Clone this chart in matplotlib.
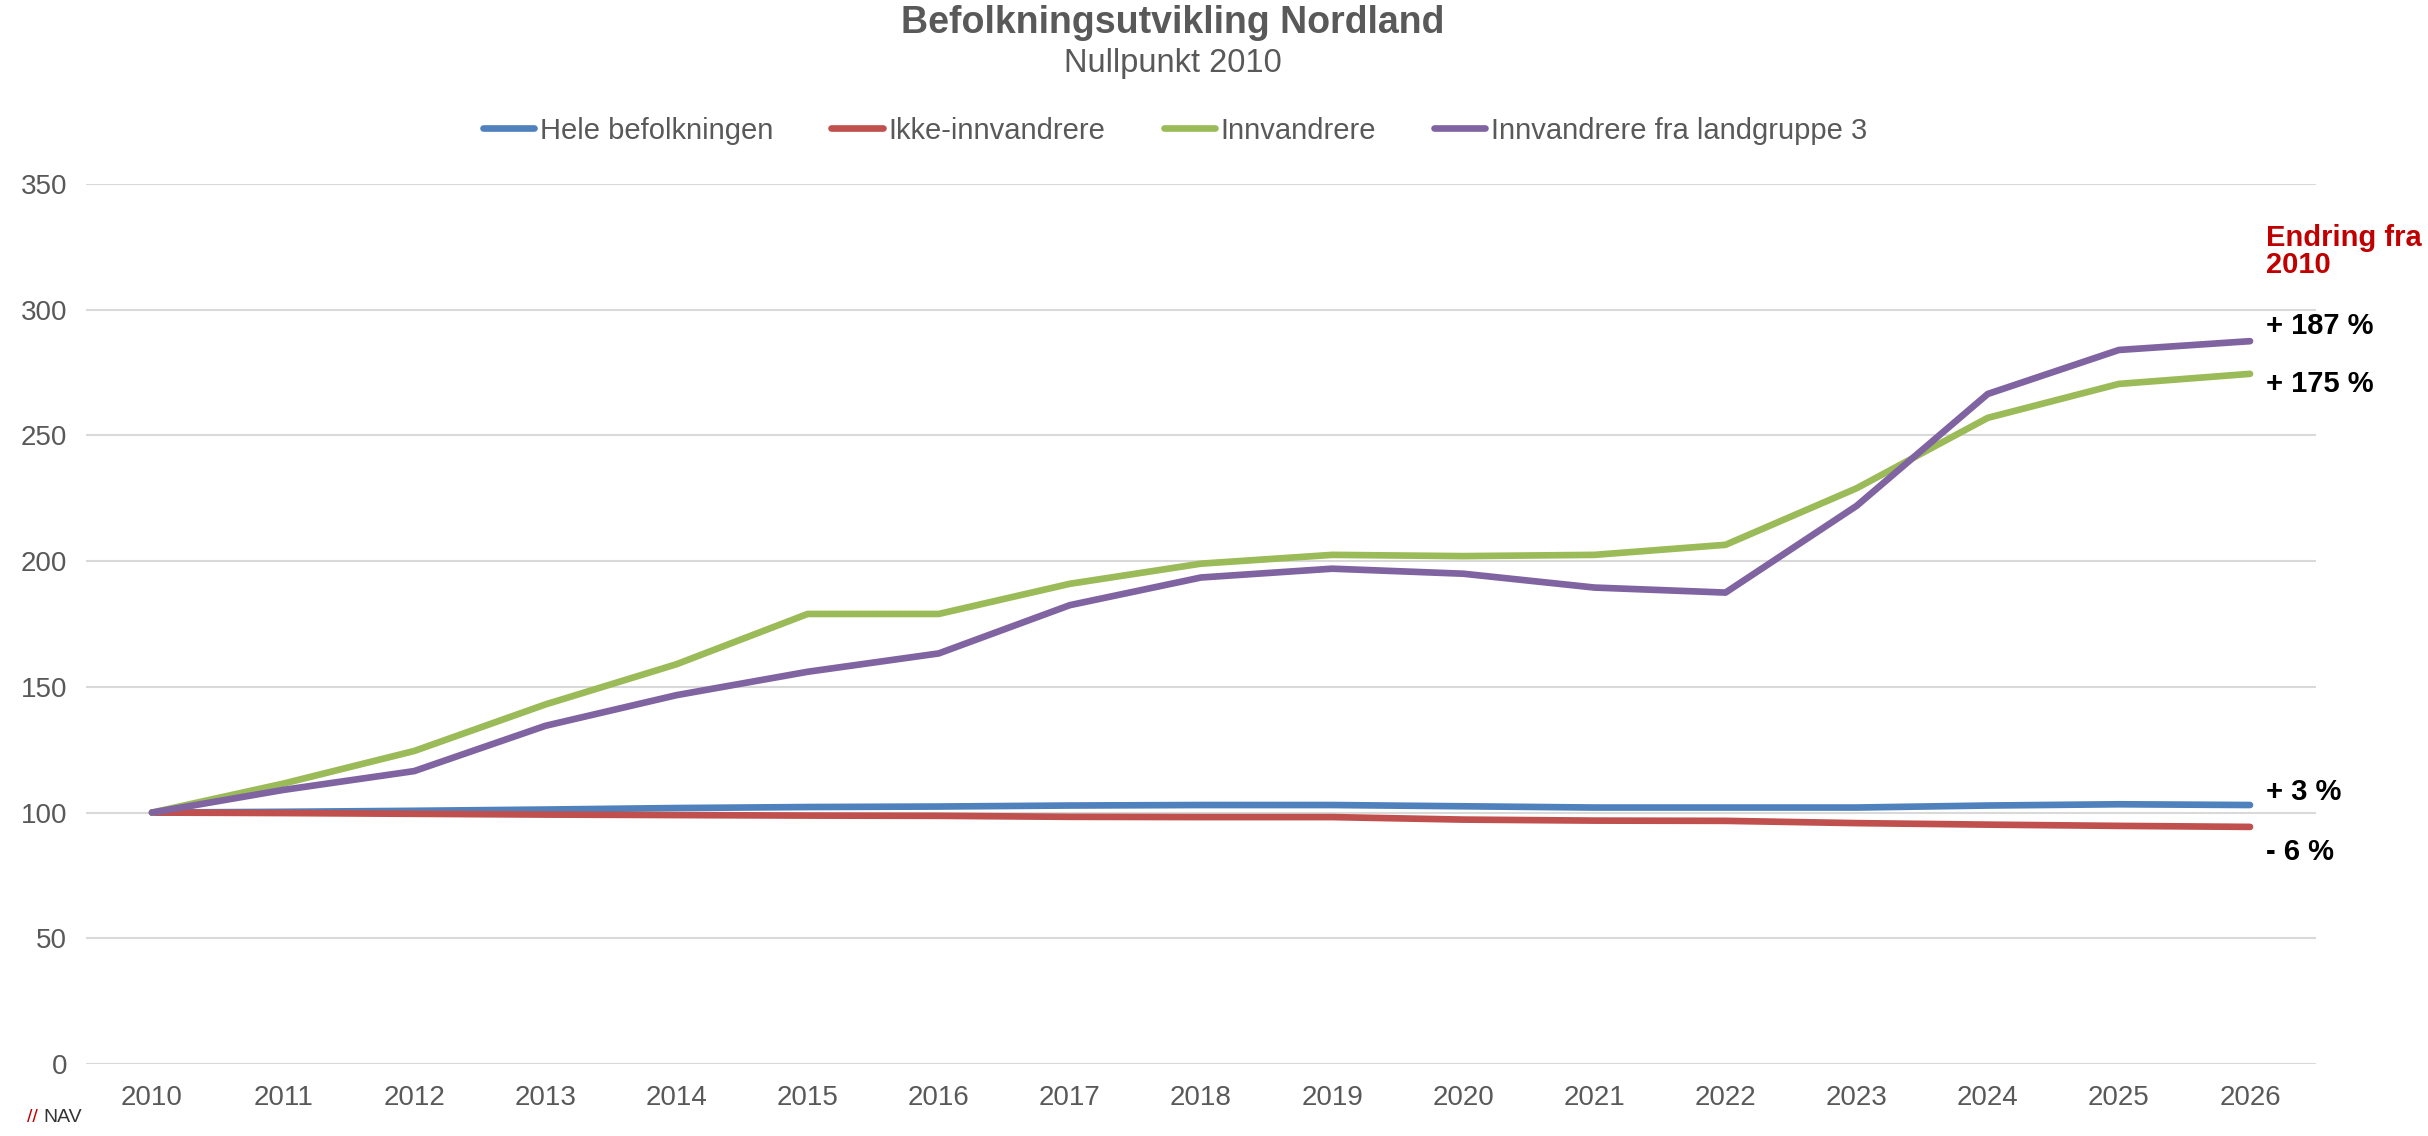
import matplotlib
matplotlib.use('Agg')
import matplotlib.pyplot as plt
from matplotlib.lines import Line2D

plt.rcParams['font.family'] = ['Liberation Sans', 'DejaVu Sans']

# Data: index, 2010 = 100
years = list(range(2010, 2027))
hele = [100, 100.3, 100.7, 101.2, 101.8, 102.2, 102.4, 102.8, 103.0, 103.0,
        102.5, 102.0, 102.0, 102.0, 102.8, 103.3, 103.0]
ikke = [100, 99.8, 99.5, 99.2, 99.0, 98.8, 98.7, 98.3, 98.2, 98.2,
        97.2, 96.8, 96.7, 95.8, 95.2, 94.7, 94.3]
innv = [100, 111.5, 124.5, 143, 159, 179, 179, 191, 199, 202.5,
        202, 202.5, 206.5, 229, 257, 270.5, 274.5]
innv_lg3 = [100, 109, 116.5, 134.5, 146.7, 156, 163.3, 182.5, 193.5, 197,
            195, 189.5, 187.5, 222, 266.5, 284, 287.5]

series_names = ['Hele befolkningen', 'Ikke-innvandrere', 'Innvandrere', 'Innvandrere fra landgruppe 3']
series_colors = ['#4F81BD', '#C0504D', '#9BBB59', '#8064A2']

end_labels = ['+ 187 %', '+ 175 %', '+ 3 %', '- 6 %']
end_label_y = [293.5, 270.5, 108, 84.5]

grey = '#595959'

fig = plt.figure(figsize=(24.28, 11.36), dpi=100)
ax = fig.add_axes([0.0356, 0.0634, 0.9181, 0.7746])

x = list(range(len(years)))
for vals, name, col in zip([hele, ikke, innv, innv_lg3], series_names, series_colors):
    ax.plot(x, vals, color=col, linewidth=4.8, label=name,
            solid_capstyle='round', solid_joinstyle='round', zorder=3)

ax.set_xlim(-0.5, len(years) - 0.5)
ax.set_ylim(0, 350)
ax.set_yticks(range(0, 351, 50))
ax.set_xticks(x)
ax.set_xticklabels([str(y) for y in years])
ax.tick_params(axis='both', length=0, labelsize=20, labelcolor=grey)
ax.tick_params(axis='y', pad=14)
ax.tick_params(axis='x', pad=15)
ax.grid(axis='y', color='#D9D9D9', linewidth=1.5)
ax.set_axisbelow(True)
for s in ax.spines.values():
    s.set_visible(False)

# right side labels
ax.text(16.12, 323, 'Endring fra\n2010', color='#C00000', fontsize=21, fontweight='bold',
        va='center', ha='left', linespacing=0.95, clip_on=False)
for lab, yy in zip(end_labels, end_label_y):
    ax.text(16.12, yy, lab, color='black', fontsize=21, fontweight='bold',
            va='center', ha='left', clip_on=False)

# titles
fig.text(0.483, 0.971, 'Befolkningsutvikling Nordland', ha='center', va='baseline',
         fontsize=27, fontweight='bold', color=grey)
fig.text(0.483, 0.937, 'Nullpunkt 2010', ha='center', va='baseline',
         fontsize=23.5, color=grey)

# legend
handles = [Line2D([0], [0], color=c, linewidth=4.8, solid_capstyle='round') for c in series_colors]
fig.legend(handles, series_names, loc='center', bbox_to_anchor=(0.484, 0.885), ncol=4,
           frameon=False, fontsize=21, labelcolor=grey, handlelength=1.75,
           handletextpad=0.2, columnspacing=2.0)

# NAV mark
fig.text(0.011, 0.012, '//', color='#C00000', fontsize=14, ha='left', va='baseline')
fig.text(0.0178, 0.012, 'NAV', color='#333333', fontsize=14, ha='left', va='baseline')

fig.savefig('out.png', dpi=100)
